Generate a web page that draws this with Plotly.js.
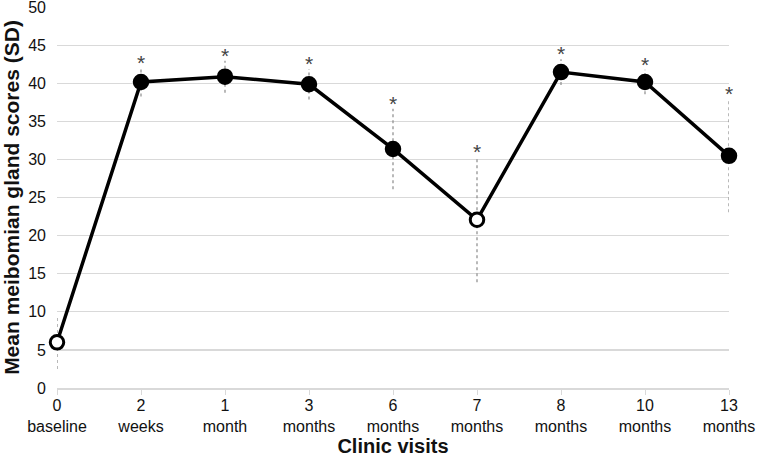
<!DOCTYPE html>
<html>
<head>
<meta charset="utf-8">
<script src="https://cdn.plot.ly/plotly-3.0.1.min.js"></script>
<style>html,body{margin:0;padding:0;background:#fff;}#chart{width:757px;height:457px;}</style>
</head>
<body>
<div id="chart"></div>
<script>
const visitNumbers = ["0", "2", "1", "3", "6", "7", "8", "10", "13"];
const visitUnits = ["baseline", "weeks", "month", "months", "months", "months", "months", "months", "months"];
const meanScores = [6.0, 40.2, 40.9, 39.9, 31.4, 22.1, 41.5, 40.2, 30.5];
const sdScores = [3.5, 1.9, 2.1, 2.0, 5.3, 8.2, 1.7, 1.6, 7.4];
const significant = [false, true, true, true, true, true, true, true, true];
const openMarker = [true, false, false, false, false, true, false, false, false];
const yTicks = [0, 5, 10, 15, 20, 25, 30, 35, 40, 45, 50];

const cats = visitNumbers.map((n, i) => n + "<br>" + visitUnits[i]);
const idx = cats.map((c, i) => i);

// dotted SD bars
const ex = [], ey = [];
idx.forEach(i => {
  ex.push(i, i, null);
  ey.push(meanScores[i] - sdScores[i], meanScores[i] + sdScores[i], null);
});

const traces = [
  {
    x: ex, y: ey, type: "scatter", mode: "lines",
    line: {color: "#8a8a8a", width: 1.2, dash: "dot"},
    hoverinfo: "skip", showlegend: false, cliponaxis: false
  },
  {
    x: idx, y: meanScores, type: "scatter", mode: "lines+markers",
    line: {color: "#000", width: 3.5},
    marker: {
      size: 13.5,
      color: openMarker.map(o => o ? "#fff" : "#000"),
      line: {color: "#000", width: 3}
    },
    showlegend: false, cliponaxis: false
  }
];

const annotations = [];
idx.forEach(i => {
  if (significant[i]) {
    annotations.push({
      x: i, y: meanScores[i] + sdScores[i], xref: "x", yref: "y",
      text: "*", showarrow: false, yanchor: "bottom", yshift: -8,
      font: {family: "Liberation Sans, Arial, sans-serif", size: 21, color: "#444"}
    });
  }
});

const layout = {
  width: 757, height: 457,
  margin: {l: 57, r: 28, t: 6.5, b: 69},
  paper_bgcolor: "#fff", plot_bgcolor: "#fff",
  font: {family: "Liberation Sans, Arial, sans-serif", size: 16, color: "#111"},
  xaxis: {
    range: [0, 8],
    tickmode: "array", tickvals: idx, ticktext: cats,
    showgrid: false, zeroline: false,
    showline: true, linecolor: "#d9d9d9", linewidth: 1.5,
    ticks: "outside", ticklen: 5, tickcolor: "#d9d9d9", tickwidth: 1,
    ticklabelstandoff: -3,
    tickfont: {size: 16, color: "#111"},
    title: {text: "Clinic visits", font: {size: 20, color: "#111", weight: "bold"}, standoff: 4}
  },
  yaxis: {
    range: [0, 50.05],
    tickmode: "array", tickvals: yTicks,
    showgrid: true, gridcolor: "#d9d9d9", gridwidth: 1.2,
    zeroline: false, showline: false,
    ticks: "", ticklabelstandoff: 10, ticklabeloverflow: "allow",
    tickfont: {size: 16, color: "#111"},
    title: {text: "Mean meibomian gland scores (SD)", font: {size: 21, color: "#111", weight: "bold"}, standoff: 4}
  },
  annotations: annotations
};

Plotly.newPlot("chart", traces, layout, {staticPlot: true, displayModeBar: false});
</script>
</body>
</html>
